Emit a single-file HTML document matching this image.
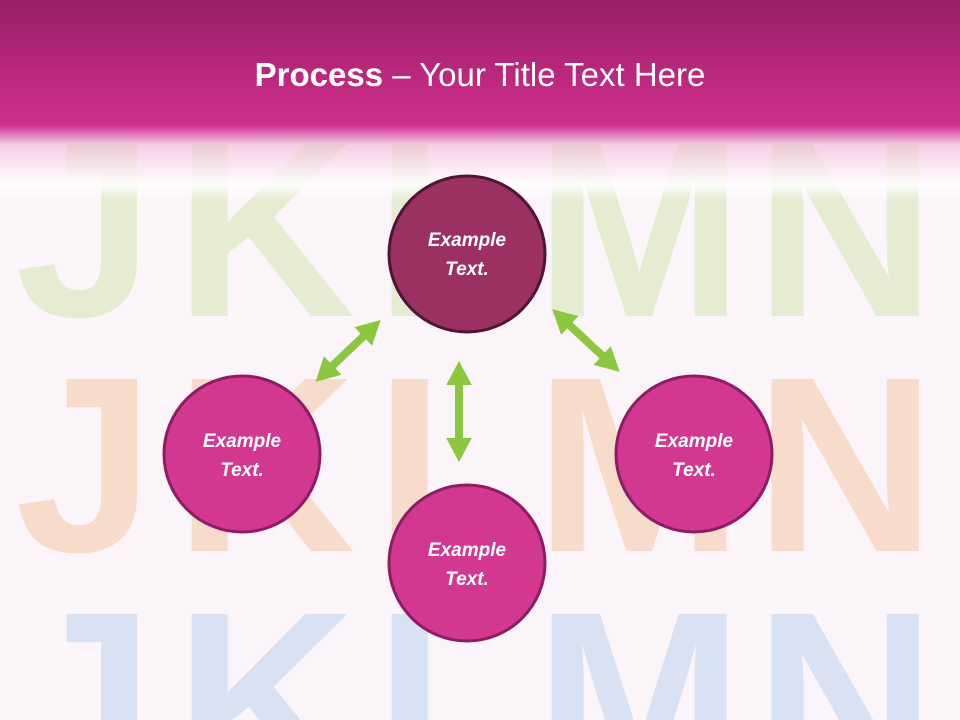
<!DOCTYPE html>
<html style="overflow:hidden;height:720px"><head><style>
body{margin:0;width:960px;height:720px;overflow:hidden;background:#fbf5fa;position:relative;font-family:"Liberation Sans",sans-serif}
.hdr{position:absolute;left:0;top:0;width:960px;height:200px;background:linear-gradient(#951f65 0px,#b32677 60px,#cf2f8e 125px,rgba(240,180,215,0.6) 145px,rgba(255,255,255,0.9) 185px,rgba(251,245,250,0) 200px);z-index:2}
.title{position:absolute;top:56px;width:960px;text-align:center;color:#fff;font-size:33px;z-index:3}
.row{position:absolute;left:0;width:960px;font-weight:bold;font-size:250px;line-height:180px;height:180px;overflow:hidden}
.row span{position:absolute;top:0}
svg{position:absolute;left:0;top:0;z-index:4}
</style></head><body>
<div class="row" style="top:140px;color:#e6ecd2"><span style="left:15px">J</span><span style="left:175px">K</span><span style="left:375px">L</span><span style="left:535px">M</span><span style="left:755px">N</span></div>
<div class="row" style="top:375px;color:#f8dccb"><span style="left:15px">J</span><span style="left:175px">K</span><span style="left:375px">L</span><span style="left:535px">M</span><span style="left:755px">N</span></div>
<div class="row" style="top:610px;height:110px;color:#d8e2f3"><span style="left:15px">J</span><span style="left:175px">K</span><span style="left:375px">L</span><span style="left:535px">M</span><span style="left:755px">N</span></div>
<div class="hdr"></div>
<div class="title"><b>Process</b> – Your Title Text Here</div>
<svg width="960" height="720">
<defs><marker id="a" markerWidth="3" markerHeight="3.2" refX="1" refY="1.6" orient="auto-start-reverse" markerUnits="strokeWidth"><path d="M0,0 L3,1.6 L0,3.2z" fill="#8dc63f"/></marker></defs>
<g stroke="#8dc63f" stroke-width="8" marker-start="url(#a)" marker-end="url(#a)">
<line x1="327" y1="371" x2="369" y2="331"/>
<line x1="459" y1="377" x2="459" y2="446"/>
<line x1="564" y1="320" x2="608" y2="361"/>
</g>
<g font-family="Liberation Sans,sans-serif" font-style="italic" font-weight="bold" font-size="19" fill="#fff" text-anchor="middle">
<circle cx="467" cy="254" r="78" fill="#9b3163" stroke="#4e1634" stroke-width="3"/>
<text x="467" y="246">Example</text><text x="467" y="275">Text.</text>
<circle cx="242" cy="454" r="78" fill="#d2388f" stroke="#8e1c64" stroke-width="3"/>
<text x="242" y="447">Example</text><text x="242" y="476">Text.</text>
<circle cx="467" cy="563" r="78" fill="#d2388f" stroke="#8e1c64" stroke-width="3"/>
<text x="467" y="556">Example</text><text x="467" y="585">Text.</text>
<circle cx="694" cy="454" r="78" fill="#d2388f" stroke="#8e1c64" stroke-width="3"/>
<text x="694" y="447">Example</text><text x="694" y="476">Text.</text>
</g>
</svg>
</body></html>
